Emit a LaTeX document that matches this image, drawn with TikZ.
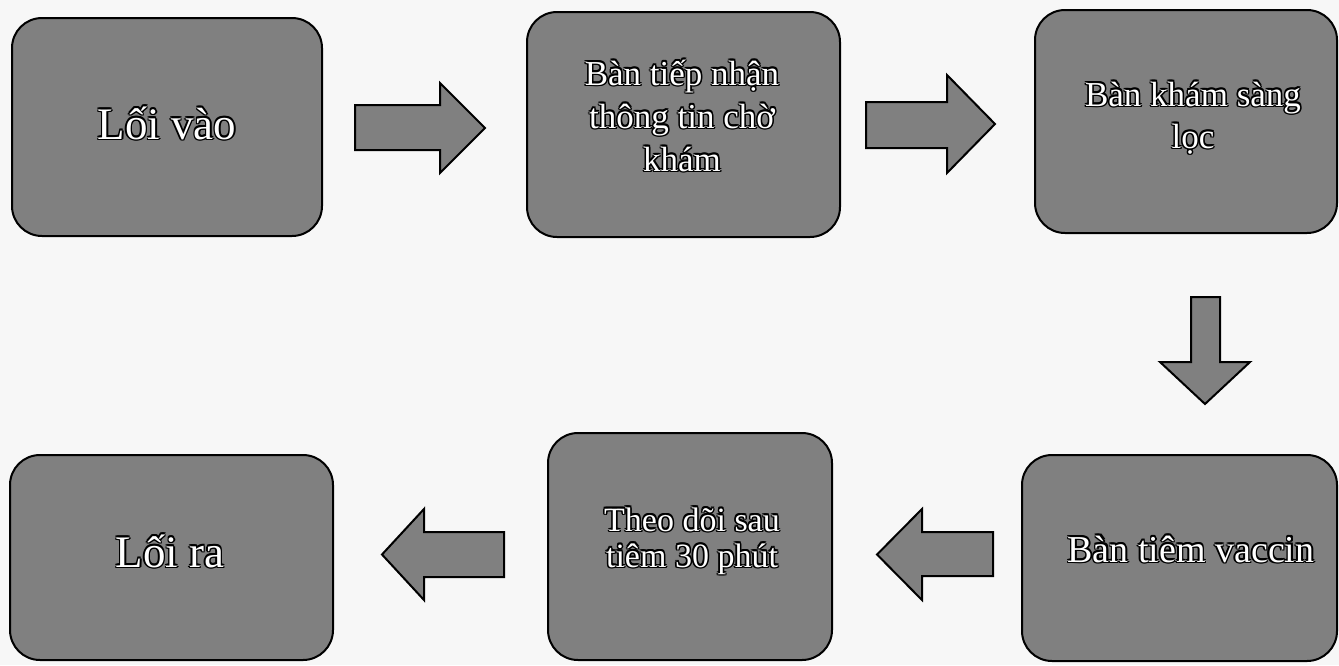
\documentclass[tikz,border=0pt]{standalone}
\usepackage{fontspec}
\setmainfont{Liberation Serif}
\definecolor{boxgray}{RGB}{128,128,128}
\definecolor{paper}{RGB}{247,247,247}
\newlength\olw
\setlength\olw{1.5pt}
\newcommand\outl[1]{\begingroup\setbox0=\hbox{#1}%
\rlap{\color{black}\kern\olw\copy0}%
\rlap{\color{black}\kern-\olw\copy0}%
\rlap{\color{black}\raise\olw\copy0}%
\rlap{\color{black}\lower\olw\copy0}%
\rlap{\color{black}\kern0.75\olw\raise0.75\olw\copy0}%
\rlap{\color{black}\kern-0.75\olw\raise0.75\olw\copy0}%
\rlap{\color{black}\kern0.75\olw\lower0.75\olw\copy0}%
\rlap{\color{black}\kern-0.75\olw\lower0.75\olw\copy0}%
\color{white}\copy0\endgroup}
\tikzset{
  stage/.style={draw=black, line width=2pt, fill=boxgray, rectangle,
    rounded corners=30pt, inner sep=0pt},
  txt/.style={anchor=base, inner sep=0pt},
  bigtxt/.style={txt, font=\fontsize{45}{50}\selectfont},
  smalltxt/.style={txt, font=\fontsize{35}{42}\selectfont},
  blockarrow/.style={draw=black, line width=2pt, fill=boxgray, line join=miter}
}
\begin{document}
\begin{tikzpicture}[x=1pt,y=-1pt]
\fill[paper] (0,0) rectangle (1339,665);
\useasboundingbox (0,0) rectangle (1339,665);
% boxes
\node[stage, minimum width=310pt, minimum height=218pt] (vao) at (167,127) {};
\node[stage, minimum width=313pt, minimum height=225pt] (tiepnhan) at (683.5,124.5) {};
\node[stage, minimum width=302pt, minimum height=223pt] (sangloc) at (1186,121.5) {};
\node[stage, minimum width=315pt, minimum height=206pt] (tiem) at (1179.5,558) {};
\node[stage, minimum width=284pt, minimum height=227pt] (theodoi) at (690,546.5) {};
\node[stage, minimum width=323pt, minimum height=205pt] (ra) at (171.5,557.5) {};
% texts
\node[bigtxt] (vao1) at (167,139) {\outl{Lối vào}};
\node[smalltxt] (tiepnhan1) at (682,85) {\outl{Bàn tiếp nhận}};
\node[smalltxt] (tiepnhan2) at (682,128) {\outl{thông tin chờ}};
\node[smalltxt] (tiepnhan3) at (682,171) {\outl{khám}};
\node[smalltxt] (sangloc1) at (1193,106) {\outl{Bàn khám sàng}};
\node[smalltxt] (sangloc2) at (1193,148) {\outl{lọc}};
\node[txt, font=\fontsize{38}{44}\selectfont] (tiem1) at (1191,562) {\outl{Bàn tiêm vaccin}};
\node[txt, font=\fontsize{34}{38}\selectfont] (theodoi1) at (692,531) {\outl{Theo dõi sau}};
\node[txt, font=\fontsize{34}{38}\selectfont] (theodoi2) at (692,567) {\outl{tiêm 30 phút}};
\node[bigtxt] (ra1) at (170,567) {\outl{Lối ra}};
% block arrows
\draw[blockarrow] (355,105) -- (440,105) -- (440,83) -- (485,128) -- (440,173) -- (440,150) -- (355,150) -- cycle;
\draw[blockarrow] (866,102) -- (947,102) -- (947,75) -- (995,124) -- (947,173) -- (947,148) -- (866,148) -- cycle;
\draw[blockarrow] (1191,297) -- (1220,297) -- (1220,362) -- (1250,362) -- (1205,404) -- (1160,362) -- (1191,362) -- cycle;
\draw[blockarrow] (993,532) -- (922,532) -- (922,509) -- (877,554.5) -- (922,600) -- (922,576) -- (993,576) -- cycle;
\draw[blockarrow] (504,532) -- (424,532) -- (424,509) -- (382,554.5) -- (424,600) -- (424,577) -- (504,577) -- cycle;
\end{tikzpicture}
\end{document}
